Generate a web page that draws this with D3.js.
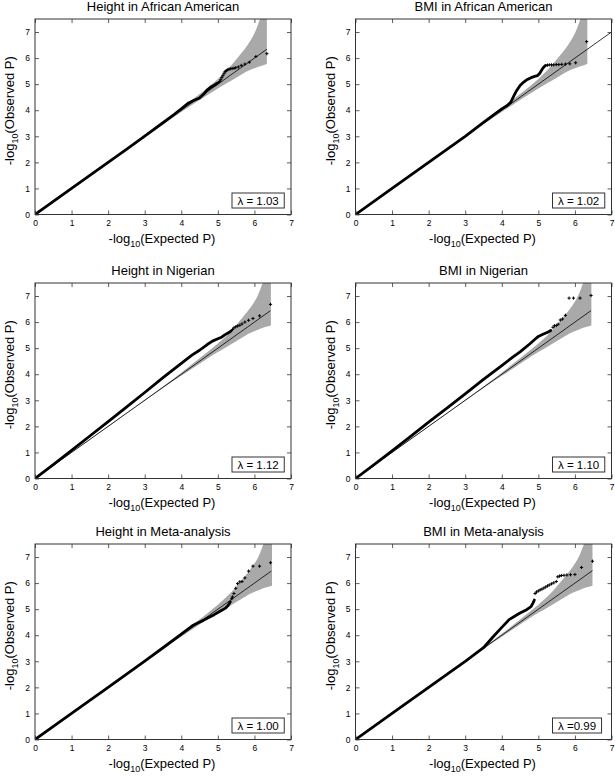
<!DOCTYPE html>
<html><head><meta charset="utf-8">
<script src="https://cdn.jsdelivr.net/npm/d3@7"></script>
<style>
body{margin:0;background:#fff}
svg{display:block}
text{font-family:"Liberation Sans",Arial,Helvetica,sans-serif;fill:#000}
</style>
</head><body>
<svg id="c" width="615" height="777"></svg>
<script>
// ---------- data ----------
const titles = ["Height in African American","BMI in African American","Height in Nigerian","BMI in Nigerian","Height in Meta-analysis","BMI in Meta-analysis"];
const lambdaLabels = ["λ = 1.03","λ = 1.02","λ = 1.12","λ = 1.10","λ = 1.00","λ =0.99"];
const xTicks = [0,1,2,3,4,5,6,7];
const yTicks = [0,1,2,3,4,5,6,7];
const diagMax = [6.34, 7, 6.44, 6.44, 6.46, 6.48];

// 95% band: [expected, lower, upper]
const bandAA = [[0,0,0],[2,1.99,2.01],[3,2.98,3.02],[3.5,3.46,3.54],[4,3.93,4.07],[4.5,4.39,4.62],[5,4.83,5.2],[5.25,5.04,5.54],[5.5,5.25,5.95],[5.75,5.46,6.38],[6.0,5.61,6.95],[6.15,5.69,7.5],[6.25,5.73,7.95],[6.34,5.77,8.6]];
const bandNG = [[0,0,0],[2,1.99,2.01],[3,2.98,3.02],[3.5,3.47,3.53],[4,3.94,4.06],[4.5,4.40,4.61],[5,4.85,5.18],[5.1,4.93,5.3],[5.35,5.14,5.64],[5.6,5.35,6.05],[5.85,5.56,6.48],[6.1,5.71,7.05],[6.25,5.79,7.6],[6.35,5.83,8.0],[6.45,5.87,8.6]];
const bandMeta = [[0,0,0],[2,1.99,2.01],[3,2.98,3.02],[3.5,3.47,3.53],[4,3.94,4.06],[4.5,4.41,4.60],[5,4.86,5.17],[5.13,4.96,5.33],[5.38,5.17,5.67],[5.63,5.38,6.08],[5.88,5.59,6.51],[6.13,5.74,7.08],[6.28,5.82,7.63],[6.38,5.86,8.0],[6.48,5.9,8.6]];

// observed: dense part [expected, observed]
const denseHAA = [[0,0],[1,1],[2,2],[2.5,2.5],[3,3.01],[3.5,3.52],[3.8,3.83],[4,4.05],[4.2,4.28],[4.35,4.38],[4.5,4.47],[4.6,4.6],[4.7,4.76],[4.8,4.88],[4.9,4.96],[5.0,5.05]];
const denseBAA = [[0,0],[1,1],[2,2],[3,3],[3.5,3.53],[4,4.05],[4.15,4.18],[4.25,4.32],[4.33,4.55],[4.4,4.74],[4.5,4.95],[4.6,5.08],[4.7,5.18],[4.8,5.25],[4.9,5.3],[4.98,5.33],[5.04,5.42],[5.1,5.56],[5.15,5.66],[5.2,5.72]];
const denseHNG = [[0,0],[0.5,0.53],[1,1.08],[1.5,1.63],[2,2.18],[2.5,2.74],[3,3.3],[3.5,3.87],[4,4.42],[4.3,4.74],[4.5,4.92],[4.7,5.13],[4.85,5.27],[5.0,5.36],[5.1,5.42],[5.2,5.52],[5.3,5.6],[5.36,5.66]];
const denseBNG = [[0,0],[0.5,0.52],[1,1.06],[1.5,1.61],[2,2.16],[2.5,2.7],[3,3.25],[3.5,3.8],[4,4.33],[4.3,4.66],[4.5,4.86],[4.77,5.17],[4.9,5.33],[5.0,5.45],[5.14,5.54],[5.27,5.62],[5.34,5.68]];
const denseHMA = [[0,0],[1,1],[2,2],[3,3.01],[3.5,3.52],[4,4.04],[4.3,4.36],[4.45,4.47],[4.6,4.57],[4.75,4.68],[4.9,4.79],[5.06,4.92],[5.2,5.03],[5.28,5.14],[5.34,5.28]];
const denseBMA = [[0,0],[1,1],[2,2],[3,3],[3.5,3.52],[3.77,3.95],[4.0,4.3],[4.2,4.6],[4.35,4.73],[4.5,4.85],[4.68,4.98],[4.8,5.1],[4.86,5.25],[4.89,5.35]];

// observed: sparse tail points [expected, observed]
const tailHAA = [[5.05,5.1],[5.08,5.17],[5.11,5.26],[5.14,5.34],[5.17,5.42],[5.2,5.48],[5.23,5.52],[5.26,5.55],[5.3,5.57],[5.34,5.59],[5.39,5.6],[5.44,5.61],[5.49,5.63],[5.56,5.66],[5.64,5.72],[5.74,5.77],[5.86,5.84],[6.04,6.06],[6.34,6.17]];
const tailBAA = [[5.25,5.73],[5.3,5.74],[5.36,5.74],[5.42,5.74],[5.49,5.75],[5.56,5.75],[5.64,5.76],[5.74,5.77],[5.86,5.78],[6.02,5.82],[6.32,6.63]];
const tailHNG = [[5.4,5.72],[5.44,5.78],[5.49,5.82],[5.54,5.85],[5.6,5.88],[5.66,5.93],[5.74,6.0],[5.84,6.07],[5.96,6.14],[6.14,6.24],[6.44,6.68]];
const tailBNG = [[5.4,5.8],[5.44,5.86],[5.49,5.87],[5.54,5.92],[5.6,6.08],[5.66,6.12],[5.74,6.26],[5.84,6.92],[5.96,6.92],[6.14,6.92],[6.44,7.02]];
const tailHMA = [[5.38,5.4],[5.4,5.47],[5.44,5.6],[5.49,5.8],[5.54,5.98],[5.6,6.05],[5.66,6.06],[5.74,6.2],[5.84,6.46],[5.96,6.65],[6.14,6.65],[6.44,6.78]];
const tailBMA = [[4.91,5.6],[4.95,5.66],[5.0,5.7],[5.05,5.74],[5.1,5.77],[5.15,5.81],[5.2,5.85],[5.25,5.89],[5.3,5.93],[5.36,5.97],[5.42,6.01],[5.49,6.06],[5.53,6.24],[5.58,6.27],[5.63,6.29],[5.7,6.3],[5.78,6.31],[5.88,6.32],[6.0,6.33],[6.18,6.6],[6.48,6.84]];

// ---------- drawing ----------
const bands = [bandAA, bandAA, bandNG, bandNG, bandMeta, bandMeta];
const denses = [denseHAA, denseBAA, denseHNG, denseBNG, denseHMA, denseBMA];
const tails = [tailHAA, tailBAA, tailHNG, tailBNG, tailHMA, tailBMA];

const svg = d3.select("#c");
const colX = [35, 355.5], rowY = [19, 283, 544], PW = 256, PH = 195.5;

titles.forEach((title, i) => {
  const left = colX[i % 2], top = rowY[Math.floor(i / 2)];
  const x = d3.scaleLinear().domain([0, 7]).range([left, left + PW]);
  const y = d3.scaleLinear().domain([0, 7.5]).range([top + PH, top]);
  const g = svg.append("g");

  const cid = "clip" + i;
  svg.append("defs").append("clipPath").attr("id", cid)
    .append("rect").attr("x", left).attr("y", top).attr("width", PW).attr("height", PH);
  const pg = g.append("g").attr("clip-path", `url(#${cid})`);

  // confidence band
  pg.append("path").datum(bands[i])
    .attr("fill", "#a9a9a9")
    .attr("d", d3.area().x(d => x(d[0])).y0(d => y(d[1])).y1(d => y(d[2])).curve(d3.curveMonotoneX));

  // expected line
  pg.append("line")
    .attr("x1", x(0)).attr("y1", y(0)).attr("x2", x(diagMax[i])).attr("y2", y(diagMax[i]))
    .attr("stroke", "#000").attr("stroke-width", 0.8);

  // dense observed points
  pg.append("path").datum(denses[i])
    .attr("fill", "none").attr("stroke", "#000").attr("stroke-width", 2.8)
    .attr("stroke-linecap", "round").attr("stroke-linejoin", "round")
    .attr("d", d3.line().x(d => x(d[0])).y(d => y(d[1])));

  // sparse tail points (+)
  pg.selectAll("path.pt").data(tails[i]).join("path").attr("class", "pt")
    .attr("transform", d => `translate(${x(d[0])},${y(d[1])})`)
    .attr("d", "M-1.6,0H1.6M0,-1.6V1.6")
    .attr("stroke", "#000").attr("stroke-width", 1);

  // axes with inward ticks
  const fs = "8.5px";
  g.append("g").attr("transform", `translate(0,${top + PH})`)
    .call(d3.axisBottom(x).tickValues(xTicks).tickFormat(d3.format("d")).tickSizeInner(-4).tickSizeOuter(0).tickPadding(5.5));
  g.append("g").attr("transform", `translate(0,${top})`)
    .call(d3.axisTop(x).tickValues(xTicks).tickFormat("").tickSizeInner(-4).tickSizeOuter(0));
  g.append("g").attr("transform", `translate(${left},0)`)
    .call(d3.axisLeft(y).tickValues(yTicks).tickFormat(d3.format("d")).tickSizeInner(-4).tickSizeOuter(0).tickPadding(5));
  g.append("g").attr("transform", `translate(${left + PW},0)`)
    .call(d3.axisRight(y).tickValues(yTicks).tickFormat("").tickSizeInner(-4).tickSizeOuter(0));
  g.selectAll(".domain").remove();
  g.selectAll(".tick line").attr("stroke", "#333").attr("stroke-width", 0.8);
  g.selectAll(".tick text").attr("font-size", fs).attr("fill", "#000");
  g.selectAll("g").attr("font-family", null).attr("font-size", null);

  // frame
  g.append("rect").attr("x", left).attr("y", top).attr("width", PW).attr("height", PH)
    .attr("fill", "none").attr("stroke", "#333").attr("stroke-width", 1);

  // title
  g.append("text").attr("x", left + PW / 2).attr("y", top - 8.5)
    .attr("text-anchor", "middle").attr("font-size", "13px").text(title);

  // x label
  const xl = g.append("text").attr("x", left + PW / 2 - 1).attr("y", top + PH + 28)
    .attr("text-anchor", "middle").attr("font-size", "13px");
  xl.append("tspan").text("-log");
  xl.append("tspan").attr("font-size", "9px").attr("dy", 4).text("10");
  xl.append("tspan").attr("dy", -4).text("(Expected P)");

  // y label
  const yl = g.append("text")
    .attr("transform", `translate(${left - 21},${top + PH / 2 - 6}) rotate(-90)`)
    .attr("text-anchor", "middle").attr("font-size", "13px");
  yl.append("tspan").text("-log");
  yl.append("tspan").attr("font-size", "9px").attr("dy", 4).text("10");
  yl.append("tspan").attr("dy", -4).text("(Observed P)");

  // lambda box
  const bx = left + 197, by = top + PH - 21.5;
  const box = g.append("rect").attr("x", bx).attr("y", by).attr("height", 15)
    .attr("fill", "#fff").attr("stroke", "#333").attr("stroke-width", 1);
  const lt = g.append("text").attr("x", bx + 5.5).attr("y", by + 11.5)
    .attr("font-size", "11.5px").text(lambdaLabels[i]);
  box.attr("width", lt.node().getComputedTextLength() + 11);
});
</script>
</body></html>
